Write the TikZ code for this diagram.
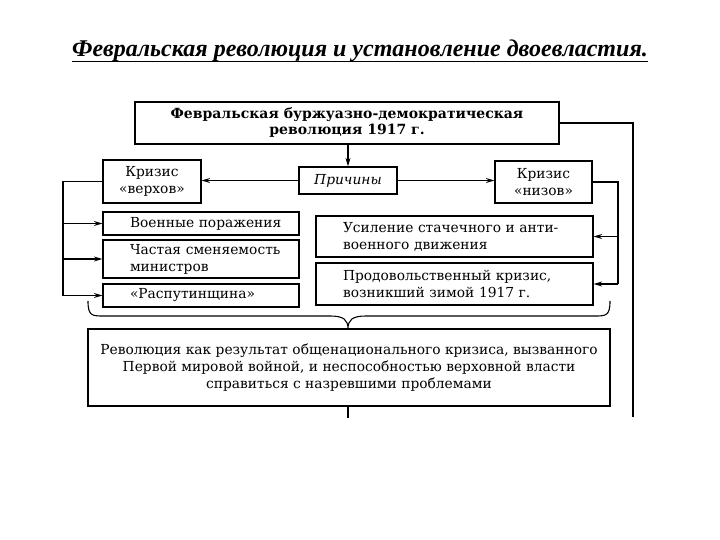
\documentclass[tikz,border=0pt]{standalone}
\usepackage{fontspec}
\setmainfont{DejaVu Serif}
\newfontfamily\titlefont{Liberation Serif}
\usetikzlibrary{arrows.meta}
\newcommand\ind{\hspace*{23pt}}
\begin{document}
\begin{tikzpicture}[x=1pt,y=-1pt,
  box/.style={draw, line width=1.2pt, inner sep=0pt, font=\fontsize{13.8}{17}\selectfont},
  bfbox/.style={box, font=\fontsize{14}{16}\selectfont\bfseries},
  itbox/.style={box, font=\fontsize{13.8}{17}\selectfont\itshape},
  lbox/.style={box, align=left, inner xsep=4pt},
  arr/.style={-{Stealth[length=8.5pt,width=5pt]}, line width=1.1pt},
  ln/.style={line width=1.1pt}]
\useasboundingbox (0,0) rectangle (720,540);
% title
\node[font=\titlefont\bfseries\itshape\fontsize{24}{28}\selectfont, inner sep=0pt, anchor=base] (title) at (360,57) {Февральская революция и установление двоевластия.};
\draw[line width=1.5pt] ([yshift=-4.5pt]title.base west) -- ([yshift=-4.5pt]title.base east);
% boxes
\node[bfbox, minimum width=424pt, minimum height=42pt, align=center] (top) at (347,123) {Февральская буржуазно-демократическая\\революция 1917 г.};
\node[itbox, minimum width=98pt, minimum height=27pt] (prich) at (348,180.5) {Причины};
\node[box, minimum width=98pt, minimum height=43pt, align=center] (verh) at (152,181.5) {Кризис\\«верхов»};
\node[box, minimum width=97pt, minimum height=42pt, align=center] (niz) at (543.5,182) {Кризис\\«низов»};
\node[lbox, text width=188pt, minimum height=23pt] (voen) at (201,223.5) {\ind Военные поражения};
\node[lbox, text width=188pt, minimum height=38pt] (chast) at (201,259) {\ind Частая сменяемость\\\ind министров};
\node[lbox, text width=188pt, minimum height=23pt] (rasp) at (201,295.5) {\ind «Распутинщина»};
\node[lbox, text width=269pt, minimum height=41pt] (usil) at (454.5,236.5) {\ind Усиление стачечного и анти-\\\ind военного движения};
\node[lbox, text width=269pt, minimum height=42pt] (prod) at (454.5,284) {\ind Продовольственный кризис,\\\ind возникший зимой 1917 г.};
\node[box, minimum width=522pt, minimum height=77pt, align=center] (bottom) at (349,367.5) {Революция как результат общенационального кризиса, вызванного\\Первой мировой войной, и неспособностью верховной власти\\справиться с назревшими проблемами};
% helper coordinates
\coordinate (lb) at (63,0);
\coordinate (rb) at (618,0);
\coordinate (rl) at (633,417);
\coordinate (bl) at (348,418);
% connectors
\draw[arr] (prich.north |- top.south) -- (prich.north);
\draw[arr] (prich.west) -- (prich.west -| verh.east);
\draw[arr] (prich.east) -- (prich.east -| niz.west);
\draw[ln] (verh.west) -- (verh.west -| lb) -- (lb |- rasp.west);
\draw[arr] (lb |- voen.west) -- (voen.west);
\draw[arr] (lb |- chast.west) -- (chast.west);
\draw[arr] (lb |- rasp.west) -- (rasp.west);
\draw[ln] (niz.east) -- (niz.east -| rb) -- (rb |- prod.east);
\draw[arr] (rb |- usil.east) -- (usil.east);
\draw[arr] (rb |- prod.east) -- (prod.east);
\draw[ln] (top.east) -- (top.east -| rl) -- (rl);
\draw[ln] (bottom.south -| bl) -- (bl);
% brace
\draw[ln] (88,301) .. controls (88,316) and (92,316) .. (104,316) -- (330,316)
  .. controls (344,316) and (348,320) .. (348,329)
  .. controls (348,320) and (352,316) .. (366,316) -- (594,316)
  .. controls (606,316) and (610,316) .. (610,301);
\end{tikzpicture}
\end{document}
